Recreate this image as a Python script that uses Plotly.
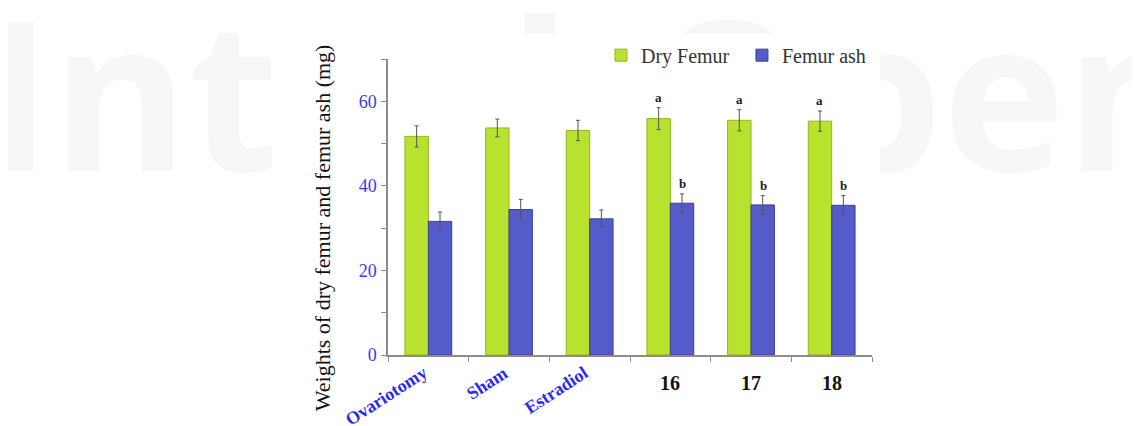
import plotly.graph_objects as go

categories = ["Ovariotomy", "Sham", "Estradiol", "16", "17", "18"]
dry_femur = [51.7, 53.7, 53.1, 55.9, 55.5, 55.3]
dry_femur_err = [2.5, 2.1, 2.4, 2.6, 2.5, 2.4]
femur_ash = [31.6, 34.4, 32.2, 35.9, 35.5, 35.4]
femur_ash_err = [2.2, 2.4, 2.1, 2.2, 2.2, 2.3]
dry_marks = ["", "", "", "a", "a", "a"]
ash_marks = ["", "", "", "b", "b", "b"]
label_colors = ["#2b2bf0", "#2b2bf0", "#2b2bf0", "#111111", "#111111", "#111111"]
y_tickvals = [0, 10, 20, 30, 40, 50, 60, 70]
y_ticktext = ["0", "", "20", "", "40", "", "60", ""]
y_title = "Weights of dry femur and femur ash (mg)"

SERIF = "Liberation Serif, Times New Roman, serif"

fig = go.Figure()
fig.add_trace(go.Bar(
    name="Dry Femur", x=categories, y=dry_femur,
    marker=dict(color="#b9e22e", line=dict(color="#93b322", width=1)),
    error_y=dict(type="data", array=dry_femur_err, color="#555555", thickness=1, width=2),
))
fig.add_trace(go.Bar(
    name="Femur ash", x=categories, y=femur_ash,
    marker=dict(color="#545bca", line=dict(color="#3d4192", width=1)),
    error_y=dict(type="data", array=femur_ash_err, color="#555555", thickness=1, width=2),
))

annotations = []
for i, c in enumerate(categories):
    if dry_marks[i]:
        annotations.append(dict(x=i, y=dry_femur[i] + dry_femur_err[i], xref="x", yref="y",
                                text="<b>%s</b>" % dry_marks[i], showarrow=False,
                                xshift=-12, yanchor="bottom", yshift=1,
                                font=dict(family=SERIF, size=13, color="#222222")))
    if ash_marks[i]:
        annotations.append(dict(x=i, y=femur_ash[i] + femur_ash_err[i], xref="x", yref="y",
                                text="<b>%s</b>" % ash_marks[i], showarrow=False,
                                xshift=12, yanchor="bottom", yshift=1,
                                font=dict(family=SERIF, size=13, color="#222222")))
    if i < 3:
        annotations.append(dict(x=i, y=0, xref="x", yref="paper", text="<b>%s</b>" % c,
                                showarrow=False, textangle=-33, xanchor="right", yanchor="top",
                                yshift=-5, xshift=5,
                                font=dict(family=SERIF, size=18, color=label_colors[i])))
    else:
        annotations.append(dict(x=i, y=0, xref="x", yref="paper", text="<b>%s</b>" % c,
                                showarrow=False, yanchor="top", yshift=-15,
                                font=dict(family=SERIF, size=20, color=label_colors[i])))

annotations.append(dict(x=-0.136, y=0.429, xref="paper", yref="paper", text=y_title,
                        showarrow=False, textangle=-90, xanchor="center", yanchor="middle",
                        font=dict(family=SERIF, size=22, color="#111111")))

fig.update_layout(
    width=1140, height=426,
    margin=dict(l=380, r=276, t=51, b=79),
    paper_bgcolor="white", plot_bgcolor="rgba(0,0,0,0)",
    barmode="group", bargap=0.42, bargroupgap=0,
    showlegend=True,
    legend=dict(orientation="h", x=0.44, y=1.013, xanchor="left", yanchor="middle",
                font=dict(family=SERIF, size=20, color="#333333"),
                entrywidth=96, entrywidthmode="pixels", bgcolor="rgba(0,0,0,0)",
                itemclick=False),
    annotations=annotations,
    shapes=[
        dict(type="rect", xref="paper", yref="paper",
             x0=0.4224 - 1.2, x1=0.4224 + 1.2, y0=0.845 - 0.4, y1=0.845 + 0.4, layer="below",
             line=dict(width=0), fillcolor="rgba(0,0,0,0)",
             label=dict(text="<b>IntechOpen</b>",
                        font=dict(family="Open Sans", size=208, color="#f7f7f7"),
                        textposition="middle center")),
        dict(type="rect", xref="paper", yref="paper",
             x0=-0.217, x1=1.0165, y0=-0.3, y1=1.088, layer="below",
             line=dict(width=0), fillcolor="white"),
    ],
)
fig.update_yaxes(
    range=[0, 70], tickvals=y_tickvals, ticktext=y_ticktext,
    showline=True, linecolor="#8c8c8c", linewidth=1.5,
    ticks="outside", ticklen=5, tickcolor="#8c8c8c", showgrid=False, zeroline=False,
    ticklabelstandoff=1,
    tickfont=dict(family=SERIF, size=18, color="#3a3af5"),
)
fig.update_xaxes(
    type="category", range=[-0.5, 5.5],
    showline=True, linecolor="#8c8c8c", linewidth=1.5,
    ticks="outside", ticklen=5, tickcolor="#8c8c8c", tickson="boundaries",
    showticklabels=False, showgrid=False, zeroline=False,
)

fig.write_html("out.html")
